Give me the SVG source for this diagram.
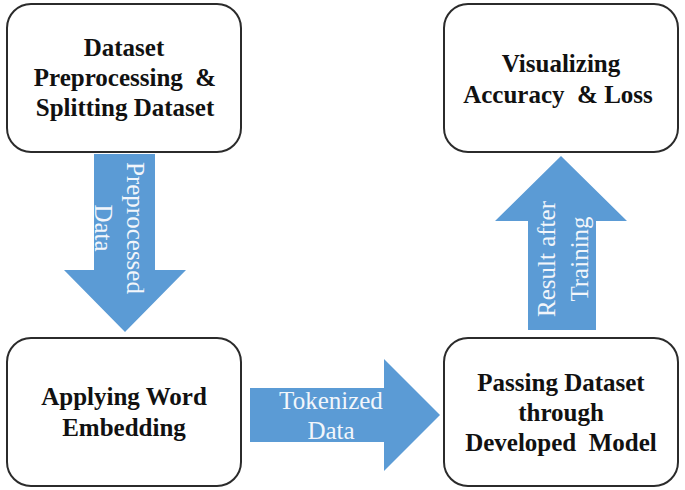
<svg xmlns="http://www.w3.org/2000/svg" width="685" height="490" viewBox="0 0 685 490">
<style>
.box{fill:#fff;stroke:#2b2b2b;stroke-width:2}
.bt{font-family:"Liberation Serif","Times New Roman",serif;font-weight:bold;font-size:25px;fill:#111;text-anchor:middle}
.arr{fill:#5b9bd5}
.at{font-family:"Liberation Serif","Times New Roman",serif;font-size:25px;fill:#f2f6fb;text-anchor:middle}
</style>
<rect width="685" height="490" fill="#fff"/>
<g id="connectors">
<g id="arrow-preprocessed">
<polygon class="arr" points="94,154 155,154 155,270 186,270 125,332 64,270 94,270"/>
<text class="at" transform="translate(125,228) rotate(90)"><tspan x="0" y="-2">Preprocessed</tspan><tspan x="0" y="30">Data</tspan></text>
</g>
<g id="arrow-tokenized">
<polygon class="arr" points="250,388 384,388 384,359 440,415 384,471 384,442 250,442"/>
<text class="at"><tspan x="331" y="409">Tokenized</tspan><tspan x="331" y="439">Data</tspan></text>
</g>
<g id="arrow-result">
<polygon class="arr" points="528,330 528,221 495,221 561,156 627,221 596,221 596,330"/>
<text class="at" transform="translate(562,259) rotate(-90)"><tspan x="0" y="-7">Result after</tspan><tspan x="0" y="26">Training</tspan></text>
</g>
</g>
<g id="node-dataset">
<rect class="box" x="7" y="4" width="234" height="148" rx="24"/>
<text class="bt"><tspan x="124" y="56">Dataset</tspan><tspan x="125" y="86">Preprocessing&#160; &amp;</tspan><tspan x="125" y="116">Splitting Dataset</tspan></text>
</g>
<g id="node-visualizing">
<rect class="box" x="444" y="4" width="234" height="148" rx="24"/>
<text class="bt"><tspan x="561" y="72">Visualizing</tspan><tspan x="558" y="103">Accuracy&#160; &amp; Loss</tspan></text>
</g>
<g id="node-embedding">
<rect class="box" x="7" y="338" width="234" height="148" rx="24"/>
<text class="bt"><tspan x="124" y="405">Applying Word</tspan><tspan x="124" y="436">Embedding</tspan></text>
</g>
<g id="node-passing">
<rect class="box" x="444" y="338" width="234" height="148" rx="24"/>
<text class="bt"><tspan x="561" y="391">Passing Dataset</tspan><tspan x="561" y="421">through</tspan><tspan x="561" y="451">Developed&#160; Model</tspan></text>
</g>
</svg>
